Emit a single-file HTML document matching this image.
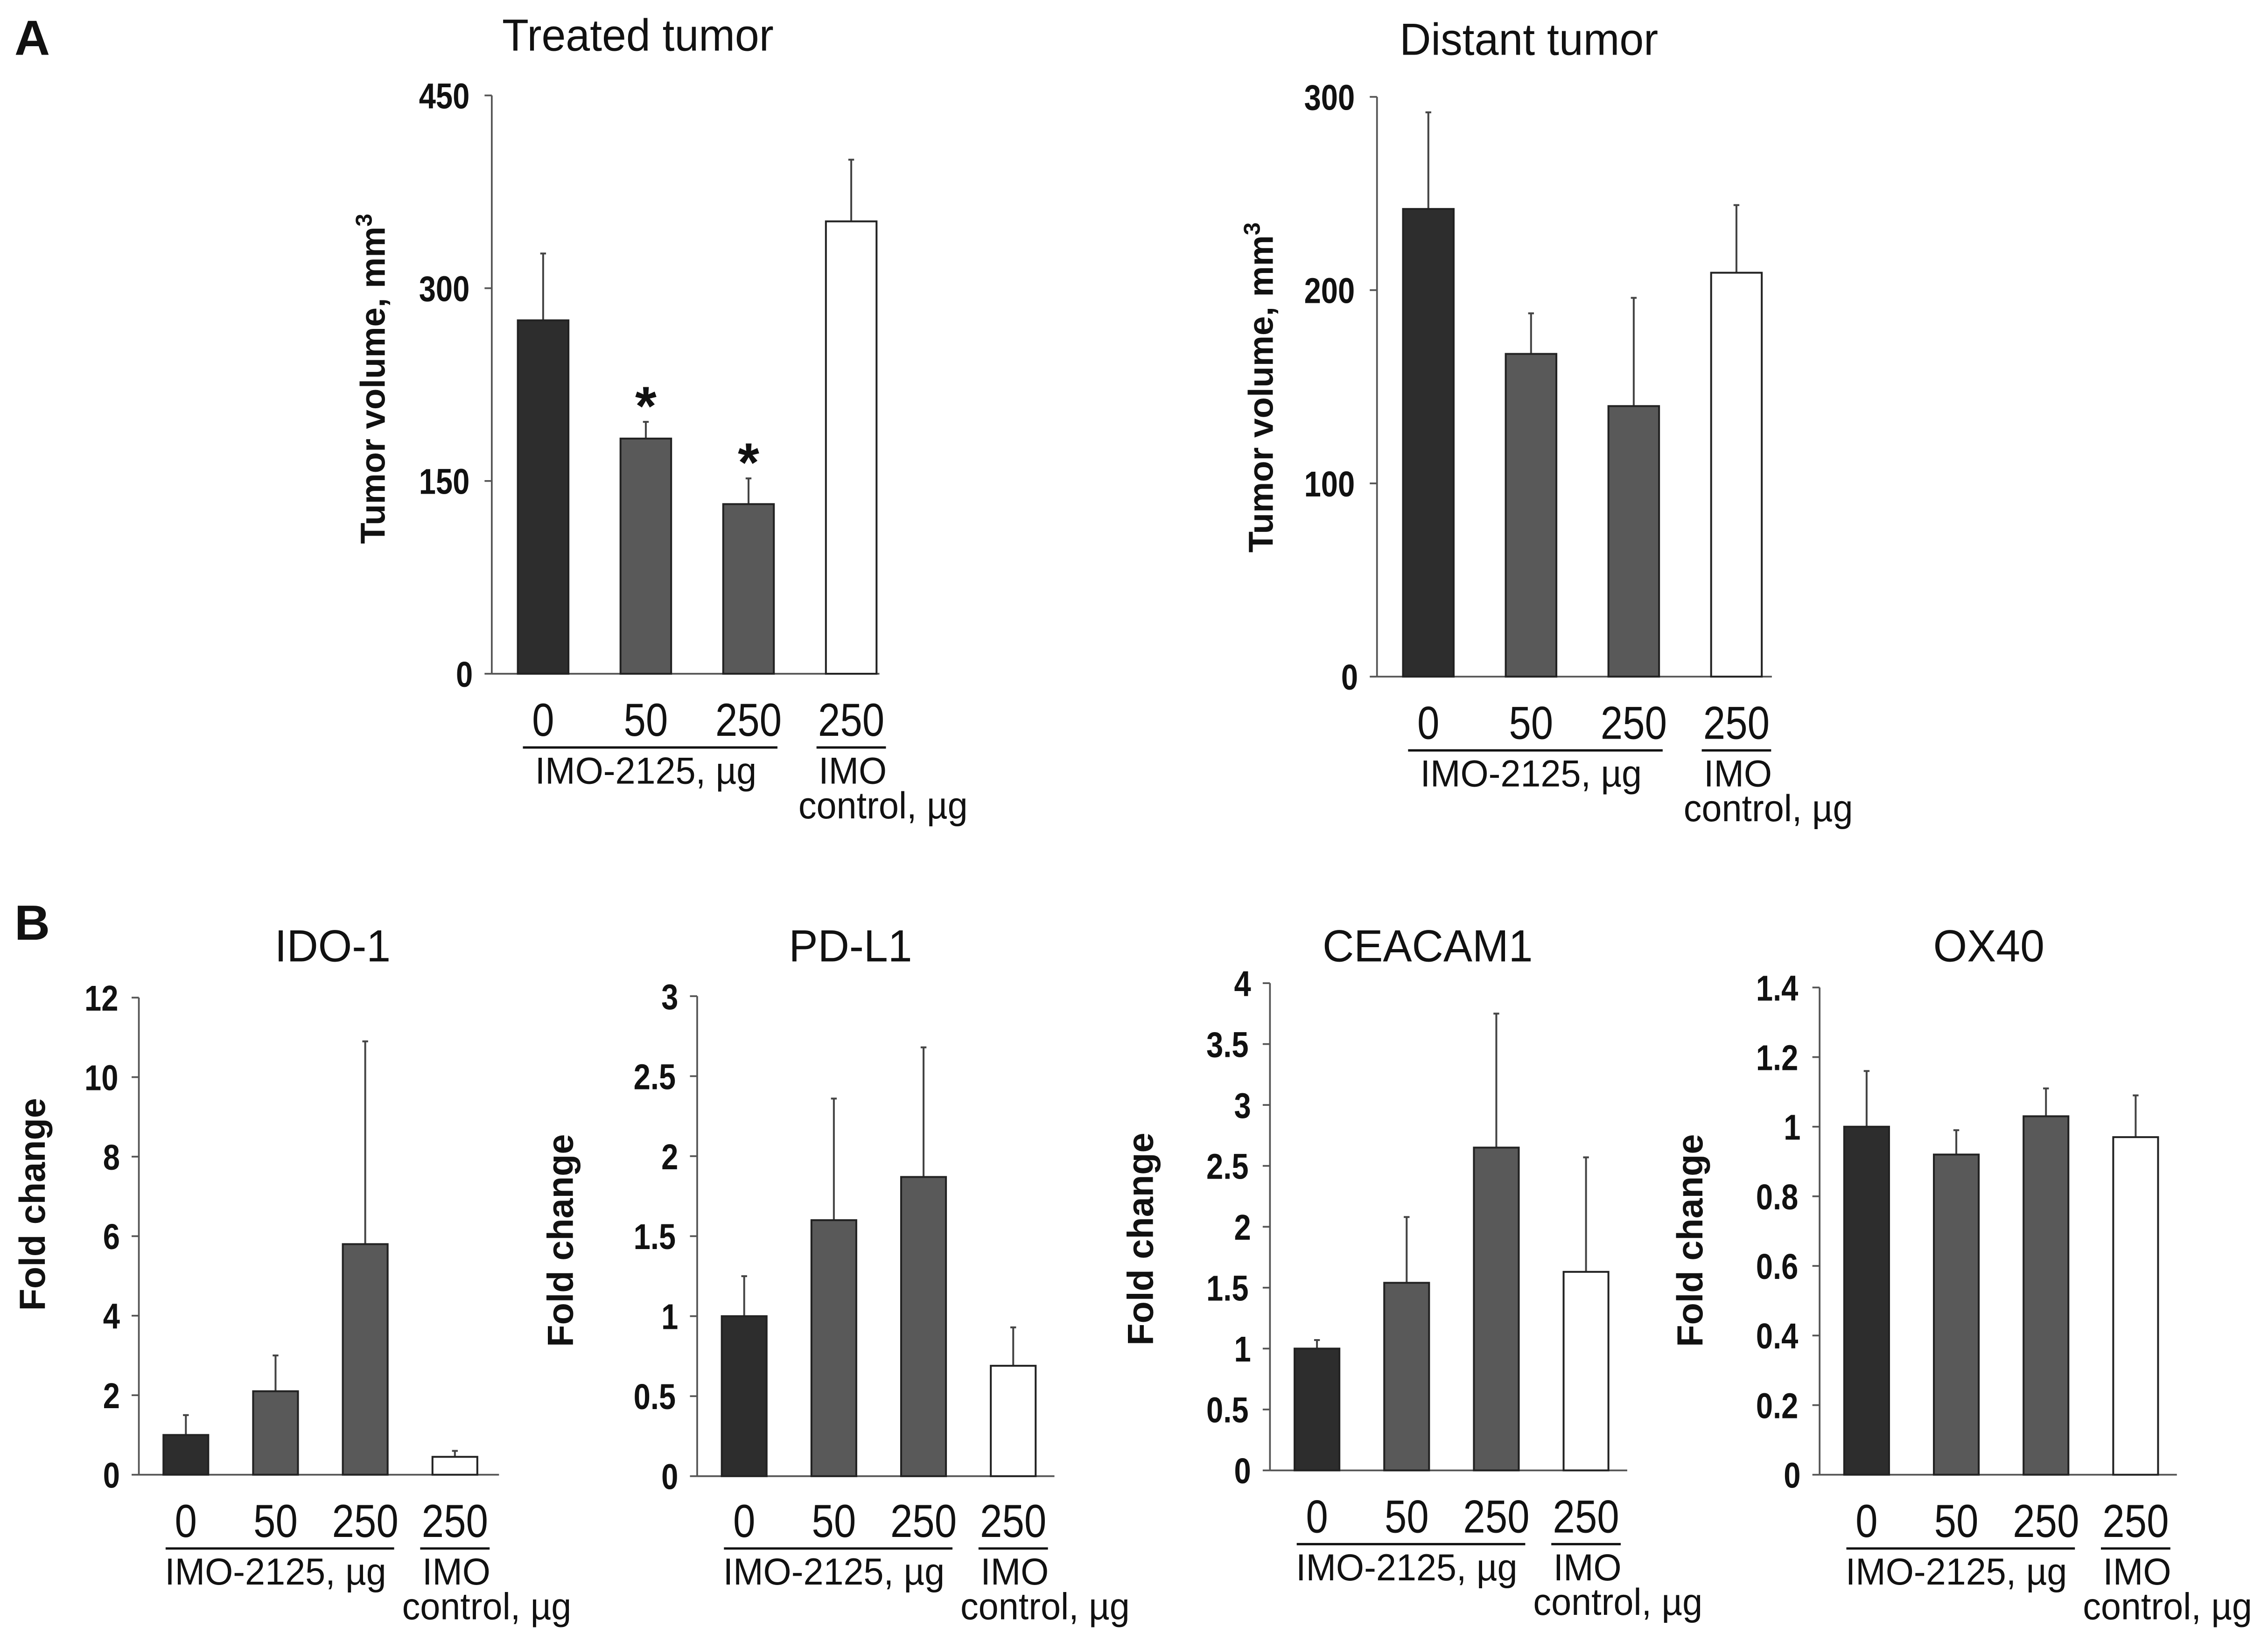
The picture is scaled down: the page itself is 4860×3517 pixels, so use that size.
<!DOCTYPE html>
<html><head><meta charset="utf-8"><style>
html,body{margin:0;padding:0;background:#fff;}
svg{display:block;}
text{font-family:"Liberation Sans",sans-serif;fill:#111;}
.tk,.cat,.sub,.ttl{transform-box:fill-box;transform-origin:center;}
.tk{font-weight:bold;font-size:25px;transform:scaleX(0.84);}
.yt{font-weight:bold;font-size:24px;}
.yt2{font-weight:bold;font-size:25px;}
.ttl{font-size:31px;transform:scaleX(0.97);}
.cat{font-size:32px;transform:scaleX(0.86);}
.sub{font-size:26px;transform:scaleX(0.96);}
</style></head><body>
<svg id="fig" width="4860" height="3517" viewBox="0 0 1568 1135" preserveAspectRatio="none" xmlns="http://www.w3.org/2000/svg">
<text x="10" y="38" style="font-weight:bold;font-size:34px">A</text>
<text x="10" y="650" style="font-weight:bold;font-size:34px">B</text>
</svg>
<script>
// Data
const categories = ["0", "50", "250", "250"];
const treatedValues = [275, 183, 132, 352];
const treatedErrors = [327, 196, 152, 400];
const treatedTicks = [0, 150, 300, 450];
const distantValues = [242, 167, 140, 209];
const distantErrors = [292, 188, 196, 244];
const distantTicks = [0, 100, 200, 300];
const idoValues = [1.0, 2.1, 5.8, 0.45];
const idoErrors = [1.5, 3.0, 10.9, 0.6];
const idoTicks = [0, 2, 4, 6, 8, 10, 12];
const pdl1Values = [1.0, 1.6, 1.87, 0.69];
const pdl1Errors = [1.25, 2.36, 2.68, 0.93];
const pdl1Ticks = [0, 0.5, 1, 1.5, 2, 2.5, 3];
const ceacamValues = [1.0, 1.54, 2.65, 1.63];
const ceacamErrors = [1.07, 2.08, 3.75, 2.57];
const ceacamTicks = [0, 0.5, 1, 1.5, 2, 2.5, 3, 3.5, 4];
const ox40Values = [1.0, 0.92, 1.03, 0.97];
const ox40Errors = [1.16, 0.99, 1.11, 1.09];
const ox40Ticks = [0, 0.2, 0.4, 0.6, 0.8, 1, 1.2, 1.4];
const treatedStars = [false, true, true, false];

const NS = "http://www.w3.org/2000/svg";
const svg = document.getElementById("fig");
function mk(tag, attrs, txt) {
  const e = document.createElementNS(NS, tag);
  for (const k in attrs) e.setAttribute(k, attrs[k]);
  if (txt !== undefined) e.textContent = txt;
  svg.appendChild(e);
  return e;
}
const fills = ["#2d2d2d", "#595959", "#595959", "#ffffff"];

function chart(c) {
  const max = c.ticks[c.ticks.length - 1];
  const y = v => c.y0 - (v / max) * (c.y0 - c.yTop);
  const x = i => c.bar0 + i * c.step;
  const bw = c.bw;
  const t = mk("text", {x: c.titleX, y: c.titleY, "text-anchor": "middle", class: "ttl"}, c.title);
  
  
  const ax = mk("line", {x1: c.ax, y1: y(max), x2: c.ax, y2: c.y0, stroke: "#555", "stroke-width": 1.2});
  
  
  const bx = mk("line", {x1: c.ax, y1: c.y0, x2: c.axEnd, y2: c.y0, stroke: "#555", "stroke-width": 1.2});
  
  
  c.ticks.forEach(v => {
    const tl = mk("line", {x1: c.ax - 5, y1: y(v), x2: c.ax, y2: y(v), stroke: "#555", "stroke-width": 1.2});
    
    
    const tt = mk("text", {x: c.ax - 12, y: y(v) + 9, "text-anchor": "end", class: "tk"}, String(v));
    
    
  });
  const yt = mk("text", {x: 0, y: 0, "text-anchor": "middle", class: c.sup ? "yt" : "yt2", transform: `translate(${c.ytX},${c.ytY}) rotate(-90)`});
  yt.textContent = c.yLabel;
  if (c.sup) { const s = document.createElementNS(NS, "tspan"); s.setAttribute("dy", "-9"); s.setAttribute("font-size", "16"); s.textContent = "3"; yt.appendChild(s); }
  
  
  c.values.forEach((v, i) => {
    const cx = x(i) + bw / 2;
    const el = mk("line", {x1: cx, y1: y(c.errors[i]), x2: cx, y2: y(v), stroke: "#444", "stroke-width": 1.3});
    
    
    const cap = mk("line", {x1: cx - 2, y1: y(c.errors[i]), x2: cx + 2, y2: y(c.errors[i]), stroke: "#444", "stroke-width": 1.3});
    
    
    const r = mk("rect", {x: x(i), y: y(v), width: bw, height: c.y0 - y(v), fill: fills[i], stroke: "#222", "stroke-width": 1.3});
    
    
    if (c.stars && c.stars[i]) {
      const st = mk("text", {x: cx, y: y(c.errors[i]) + 2, "text-anchor": "middle", style: "font-weight:bold;font-size:38px"}, "*");
      
      
    }
    const cl = mk("text", {x: cx, y: c.catY, "text-anchor": "middle", class: "cat"}, categories[i]);
    
    
  });
  const u1 = mk("line", {x1: x(0) + bw / 2 - 14, y1: c.catY + 8, x2: x(2) + bw / 2 + 20, y2: c.catY + 8, stroke: "#111", "stroke-width": 1.6});
  
  
  const u2 = mk("line", {x1: x(3) + bw / 2 - 24, y1: c.catY + 8, x2: x(3) + bw / 2 + 24, y2: c.catY + 8, stroke: "#111", "stroke-width": 1.6});
  
  
  const g1 = mk("text", {x: (x(0) + x(2) + bw) / 2, y: c.catY + 33, "text-anchor": "middle", class: "sub"}, "IMO-2125, µg");
  
  
  const g2 = mk("text", {x: x(3) + bw / 2 + 1, y: c.catY + 33, "text-anchor": "middle", class: "sub"}, "IMO");
  
  
  const g3 = mk("text", {x: x(3) + bw / 2 + 22, y: c.catY + 57, "text-anchor": "middle", class: "sub"}, "control, µg");
  
  
}

chart({id: "treated", title: "Treated tumor", titleX: 441, titleY: 35, values: treatedValues, errors: treatedErrors, ticks: treatedTicks, stars: treatedStars,
  ax: 340, axEnd: 608, y0: 466, yTop: 66, bar0: 358, step: 71, bw: 35, catY: 509, ytX: 266, ytY: 262, yLabel: "Tumor volume, mm", sup: true});
chart({id: "distant", title: "Distant tumor", titleX: 1057, titleY: 38, values: distantValues, errors: distantErrors, ticks: distantTicks,
  ax: 952, axEnd: 1225, y0: 468, yTop: 67, bar0: 970, step: 71, bw: 35, catY: 511, ytX: 880, ytY: 268, yLabel: "Tumor volume, mm", sup: true});
chart({id: "ido1", title: "IDO-1", titleX: 230, titleY: 665, values: idoValues, errors: idoErrors, ticks: idoTicks,
  ax: 96, axEnd: 345, y0: 1020, yTop: 690, bar0: 113, step: 62, bw: 31, catY: 1063, ytX: 31, ytY: 833, yLabel: "Fold change"});
chart({id: "pdl1", title: "PD-L1", titleX: 588, titleY: 665, values: pdl1Values, errors: pdl1Errors, ticks: pdl1Ticks,
  ax: 482, axEnd: 729, y0: 1021, yTop: 689, bar0: 499, step: 62, bw: 31, catY: 1063, ytX: 396, ytY: 858, yLabel: "Fold change"});
chart({id: "ceacam1", title: "CEACAM1", titleX: 987, titleY: 665, values: ceacamValues, errors: ceacamErrors, ticks: ceacamTicks,
  ax: 878, axEnd: 1125, y0: 1017, yTop: 680, bar0: 895, step: 62, bw: 31, catY: 1060, ytX: 797, ytY: 857, yLabel: "Fold change"});
chart({id: "ox40", title: "OX40", titleX: 1375, titleY: 665, values: ox40Values, errors: ox40Errors, ticks: ox40Ticks,
  ax: 1258, axEnd: 1505, y0: 1020, yTop: 683, bar0: 1275, step: 62, bw: 31, catY: 1063, ytX: 1177, ytY: 858, yLabel: "Fold change"});
</script>
</body></html>
